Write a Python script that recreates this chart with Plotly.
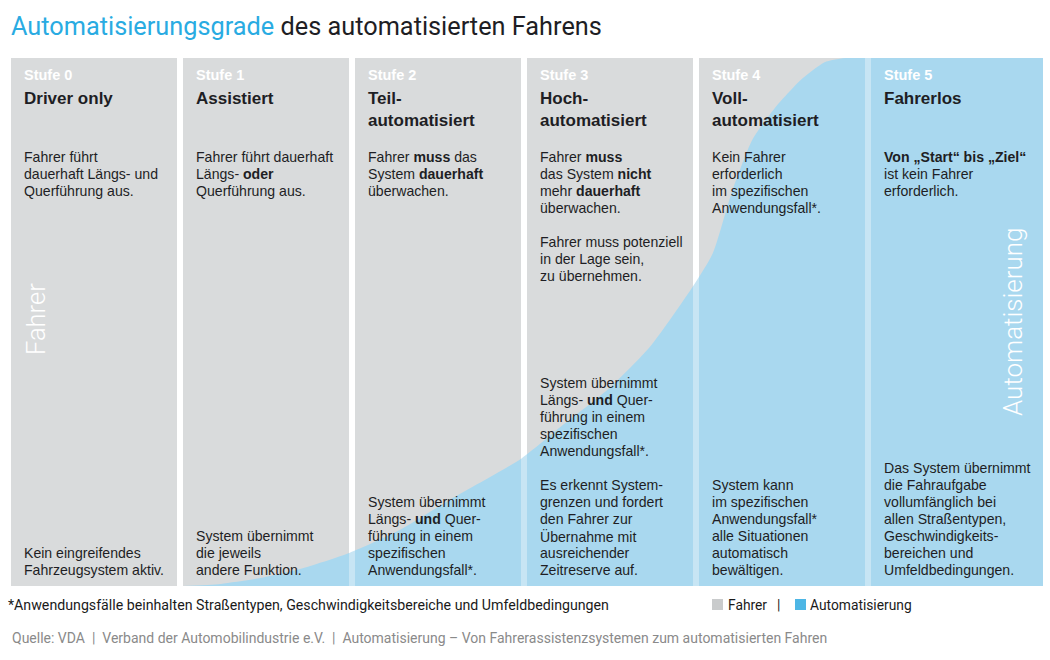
import plotly.graph_objects as go

# ---------------- data ----------------
stage_labels = ["Stufe 0", "Stufe 1", "Stufe 2", "Stufe 3", "Stufe 4", "Stufe 5"]
stage_names = ["Driver only", "Assistiert", "Teil-<br>automatisiert", "Hoch-<br>automatisiert",
               "Voll-<br>automatisiert", "Fahrerlos"]
driver_texts = [
    "Fahrer führt<br>dauerhaft Längs- und<br>Querführung aus.",
    "Fahrer führt dauerhaft<br>Längs- <b>oder</b><br>Querführung aus.",
    "Fahrer <b>muss</b> das<br>System <b>dauerhaft</b><br>überwachen.",
    "Fahrer <b>muss</b><br>das System <b>nicht</b><br>mehr <b>dauerhaft</b><br>überwachen.<br><br>"
    "Fahrer muss potenziell<br>in der Lage sein,<br>zu übernehmen.",
    "Kein Fahrer<br>erforderlich<br>im spezifischen<br>Anwendungsfall*.",
    "<b>Von „Start“ bis „Ziel“</b><br>ist kein Fahrer<br>erforderlich.",
]
system_texts = [
    "Kein eingreifendes<br>Fahrzeugsystem aktiv.",
    "System übernimmt<br>die jeweils<br>andere Funktion.",
    "System übernimmt<br>Längs- <b>und</b> Quer-<br>führung in einem<br>spezifischen<br>Anwendungsfall*.",
    "System übernimmt<br>Längs- <b>und</b> Quer-<br>führung in einem<br>spezifischen<br>Anwendungsfall*.<br><br>"
    "Es erkennt System-<br>grenzen und fordert<br>den Fahrer zur<br>Übernahme mit<br>ausreichender<br>Zeitreserve auf.",
    "System kann<br>im spezifischen<br>Anwendungsfall*<br>alle Situationen<br>automatisch<br>bewältigen.",
    "Das System übernimmt<br>die Fahraufgabe<br>vollumfänglich bei<br>allen Straßentypen,<br>Geschwindigkeits-<br>bereichen und<br>Umfeldbedingungen.",
]
# automation share (0 = driver only, 1 = fully automated) along the stage axis
curve_stage = [1.0, 1.22, 1.45, 1.68, 1.97, 2.26, 2.55, 2.97, 3.19, 3.48, 3.72, 3.97,
               4.08, 4.19, 4.31, 4.44, 4.59, 4.73, 4.85, 6.0]
curve_share = [0.0, 0.004, 0.015, 0.032, 0.063, 0.106, 0.163, 0.242, 0.300, 0.375, 0.455, 0.570,
               0.630, 0.745, 0.845, 0.905, 0.958, 0.992, 1.0, 1.0]
legend_labels = ["Fahrer", "Automatisierung"]
title_main = "Automatisierungsgrade"
title_rest = " des automatisierten Fahrens"
footnote = "*Anwendungsfälle beinhalten Straßentypen, Geschwindigkeitsbereiche und Umfeldbedingungen"
source = "Quelle: VDA  |  Verband der Automobilindustrie e.V.  |  Automatisierung – Von Fahrerassistenzsystemen zum automatisierten Fahren"

# ---------------- style ----------------
W, H = 1050, 660
L, R, T, B = 11, 1043, 58, 586
GREY = "#d9dbdc"
BLUE = "#a9d8ef"
CYAN = "#29abe2"
DARK = "#1e1e24"
FONT = "Roboto, 'Noto Sans', sans-serif"
BODYFONT = "'Liberation Sans', Arial, sans-serif"
COLW = 166 / 172
BODY = 14.1
LINE = 17


def xp(px):
    return (px - L) / (R - L)


def yp(py):
    return (B - py) / (B - T)


fig = go.Figure()
fig.add_trace(go.Scatter(x=curve_stage, y=curve_share, mode="lines", fill="tozeroy",
                         fillcolor=BLUE, line=dict(width=0, color=BLUE, shape="spline",
                                                   smoothing=0.6),
                         hoverinfo="skip", showlegend=False))

shapes = []
for i in range(len(stage_labels)):
    x1 = i + COLW if i < len(stage_labels) - 1 else len(stage_labels)
    shapes.append(dict(type="rect", xref="x", yref="y", x0=i, x1=x1, y0=0, y1=1,
                       fillcolor=GREY, line=dict(width=0), layer="below"))
for i in range(len(stage_labels) - 1):
    shapes.append(dict(type="rect", xref="x", yref="y", x0=i + COLW, x1=i + 1, y0=0, y1=1,
                       fillcolor="white", opacity=0.35, line=dict(width=0), layer="above"))
# legend squares
shapes.append(dict(type="rect", xref="paper", yref="paper", x0=xp(712), x1=xp(723),
                   y0=yp(610), y1=yp(599), fillcolor="#c9cbcc", line=dict(width=0)))
shapes.append(dict(type="rect", xref="paper", yref="paper", x0=xp(795), x1=xp(806),
                   y0=yp(610), y1=yp(599), fillcolor="#4db6e5", line=dict(width=0)))

ann = []


def add(text, px, py, size, color=DARK, family=FONT, xanchor="left", yanchor="middle",
        angle=0, weight=None):
    f = dict(size=size, color=color, family=family)
    if weight:
        f["weight"] = weight
    ann.append(dict(text=text, x=xp(px), y=yp(py), xref="paper", yref="paper",
                    xanchor=xanchor, yanchor=yanchor, showarrow=False, align="left",
                    font=f, textangle=angle, borderpad=0))


def add_block(text, px, first_py, size, step, **kw):
    for k, line in enumerate(text.split("<br>")):
        if line:
            add(line, px, first_py + k * step, size, **kw)


for i in range(len(stage_labels)):
    left = L + 172 * i + 12
    add("<b>%s</b>" % stage_labels[i], left, 75, 14.5, color="white", family=BODYFONT)
    add_block("<b>%s</b>" % stage_names[i].replace("<br>", "</b><br><b>"), left, 98, 17, 23,
              family=BODYFONT)
    add_block(driver_texts[i], left, 157, BODY, LINE, family=BODYFONT)
    n = system_texts[i].count("<br>") + 1
    add_block(system_texts[i], left, 570 - (n - 1) * LINE, BODY, LINE, family=BODYFONT)

add("Fahrer", 36, 319, 25.5, color="white", xanchor="center", angle=-90, weight=300)
add("Automatisierung", 1013, 322, 26, color="white", xanchor="center", angle=-90, weight=300)
add('<span style="color:%s">%s</span>%s' % (CYAN, title_main, title_rest), 10, 26, 25.3,
    weight=400)
add(footnote, 7, 605, 14.2, color="#1a1a1a")
add(legend_labels[0], 727, 605, 13.8, color="#1a1a1a")
add("|", 776, 605, 13.8, color="#1a1a1a")
add(legend_labels[1], 809, 605, 13.8, color="#1a1a1a")
add(source, 11, 638, 14.0, color="#8a8a8a")

fig.update_layout(
    width=W, height=H,
    margin=dict(l=L, r=W - R, t=T, b=H - B),
    paper_bgcolor="white", plot_bgcolor="white",
    xaxis=dict(range=[0, 6], visible=False, fixedrange=True),
    yaxis=dict(range=[0, 1], visible=False, fixedrange=True),
    shapes=shapes, annotations=ann, showlegend=False,
)
fig.write_html("out.html", config={"displayModeBar": False},
               post_script="document.body.style.margin='0';")
